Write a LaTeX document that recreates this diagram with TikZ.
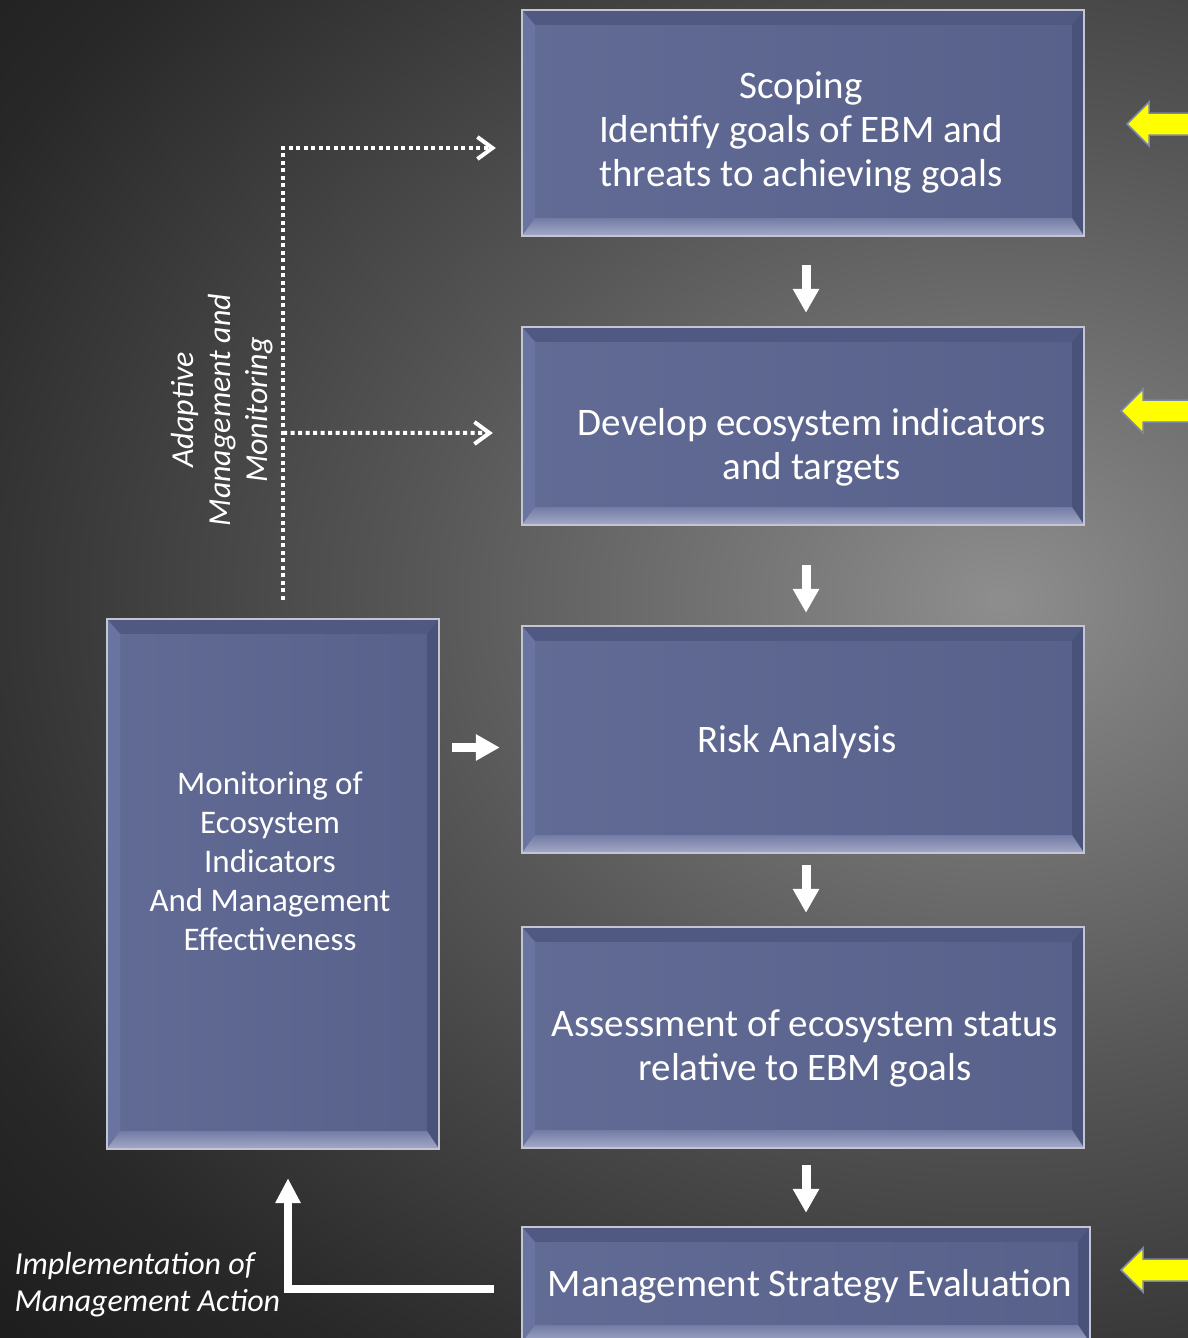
\documentclass[tikz,border=0pt]{standalone}
\usepackage{fontspec}
\setmainfont{Carlito}
\usetikzlibrary{calc,arrows.meta,shadings}
\definecolor{bgA}{HTML}{8E8E8E}
\definecolor{bgB}{HTML}{7C7C7C}
\definecolor{bgC}{HTML}{575757}
\definecolor{bgD}{HTML}{3E3E3E}
\definecolor{bgE}{HTML}{282828}
\definecolor{bgF}{HTML}{141414}
\definecolor{faceL}{HTML}{66709A}
\definecolor{faceR}{HTML}{535C85}
\definecolor{bvtopc}{HTML}{4F5982}
\definecolor{bvleftc}{HTML}{6A74A0}
\definecolor{bvrightc}{HTML}{495278}
\definecolor{bvbotT}{HTML}{737CA4}
\definecolor{bvbotB}{HTML}{A4AAC9}
\definecolor{framec}{HTML}{C3C6D2}
\definecolor{yel}{HTML}{FFFF00}
\definecolor{yelline}{HTML}{7A86A8}
\pgfdeclareradialshading{bgshade}{\pgfpoint{0bp}{0bp}}{color(0bp)=(bgA); color(4.5bp)=(bgB); color(14.5bp)=(bgC); color(22bp)=(bgD); color(28.5bp)=(bgE); color(39bp)=(bgF); color(50bp)=(bgF)}
\pgfdeclarehorizontalshading{faceshade}{100bp}{color(0bp)=(faceL); color(100bp)=(faceR)}
\tikzset{
  box/.style={rectangle, inner sep=0pt, shading=faceshade, shading angle=0},
  boxtext/.style={text=white, align=center, font=\fontsize{39}{44}\selectfont},
  montext/.style={text=white, align=center, font=\fontsize{33}{39}\selectfont},
  itext/.style={text=white, align=left, font=\itshape\fontsize{32}{37}\selectfont},
  blockarrow/.style={white, line width=9pt, -{Triangle[width=25pt,length=24pt]}},
  dotline/.style={white, line width=4pt, dash pattern=on 4pt off 3.5pt},
  dotarrow/.style={dotline, -{Straight Barb[length=15pt,width=22pt,line width=4pt]}},
  yarrow/.style={fill=yel, draw=yelline, line width=1.5pt, line join=miter},
}
\newcommand\bevelit[1]{%
  \fill[bvtopc] (#1.north west) -- (#1.north east) -- ($(#1.north east)+(-12,15)$) -- ($(#1.north west)+(13,15)$) -- cycle;
  \fill[bvrightc] (#1.north east) -- (#1.south east) -- ($(#1.south east)+(-12,-18)$) -- ($(#1.north east)+(-12,15)$) -- cycle;
  \fill[bvleftc] (#1.north west) -- ($(#1.north west)+(13,15)$) -- ($(#1.south west)+(13,-18)$) -- (#1.south west) -- cycle;
  \shade[top color=bvbotT, bottom color=bvbotB] (#1.south west) -- ($(#1.south west)+(13,-18)$) -- ($(#1.south east)+(-12,-18)$) -- (#1.south east) -- cycle;
  \draw[framec, line width=2.5pt] (#1.north west) rectangle (#1.south east);
}
\begin{document}
\begin{tikzpicture}[x=1pt, y=-1pt]
\useasboundingbox (0,0) rectangle (1188,1338);
\clip (0,0) rectangle (1188,1338);
% background
\fill[bgF] (0,0) rectangle (1188,1338);
\shade[shading=bgshade] (0,-200) rectangle (2000,1400);

% boxes
\node[box, minimum width=562pt, minimum height=226pt] (scope) at (803,123) {};
\node[box, minimum width=562pt, minimum height=198pt] (dev) at (803,426) {};
\node[box, minimum width=562pt, minimum height=227pt] (risk) at (803,739.5) {};
\node[box, minimum width=562pt, minimum height=221pt] (assess) at (803,1037.5) {};
\node[box, minimum width=568pt, minimum height=116pt] (mse) at (806,1285) {};
\node[box, minimum width=332pt, minimum height=530pt] (mon) at (273,884) {};
\bevelit{scope}
\bevelit{dev}
\bevelit{risk}
\bevelit{assess}
\bevelit{mse}
\bevelit{mon}

% box texts
\node[boxtext] (scopetext) at (801,132) {Scoping\\Identify goals of EBM and\\threats to achieving goals};
\node[boxtext] (devtext) at (812,447) {Develop ecosystem indicators\\and targets};
\node[boxtext] (risktext) at (797,742) {Risk Analysis};
\node[boxtext] (assesstext) at (805,1048) {Assessment of ecosystem status\\relative to EBM goals};
\node[boxtext] (msetext) at (810,1286) {Management Strategy Evaluation};
\node[montext] (montext) at (270,861) {Monitoring of\\Ecosystem\\Indicators\\And Management\\Effectiveness};

% block arrows between boxes
\draw[blockarrow] ($(scope.south)+(3,29)$) -- ($(dev.north)+(3,-14)$);
\draw[blockarrow] ($(dev.south)+(3,40)$) -- ($(risk.north)+(3,-13)$);
\draw[blockarrow] ($(risk.south)+(3,12)$) -- ($(assess.north)+(3,-14)$);
\draw[blockarrow] ($(assess.south)+(3,17)$) -- ($(mse.north)+(0,-14)$);
\draw[blockarrow] ($(mon.east)+(13,-136.5)$) -- ($(risk.west)+(-22,8)$);

% dotted feedback
\coordinate (branch) at ($(mon.north)+(10,-186)$);
\draw[dotarrow] ($(mon.north)+(10,-19)$) |- ($(scope.west)+(-26,25)$);
\draw[dotarrow] (branch) -- ($(dev.west)+(-29,7)$);
\node[itext, align=center, rotate=90] (adapt) at (222,410) {Adaptive\\Management and\\Monitoring};

% implementation arrow
\draw[white, line width=8pt, line join=miter, -{Triangle[width=24pt,length=25pt]}] ($(mse.west)+(-28,4)$) -| ($(mon.south)+(15,29)$);
\node[itext, anchor=west] (impl) at (11,1285) {Implementation of\\Management Action};

% yellow arrows
\coordinate (y1) at (1127,124);
\coordinate (y2) at (1121,411);
\coordinate (y3) at (1121,1270);
\foreach \p in {y1,y2,y3}{
  \draw[yarrow] (\p) -- ++(22,-22) -- ++(0,11) -- ++(60,0) -- ++(0,22) -- ++(-60,0) -- ++(0,11) -- cycle;
}
\end{tikzpicture}
\end{document}
